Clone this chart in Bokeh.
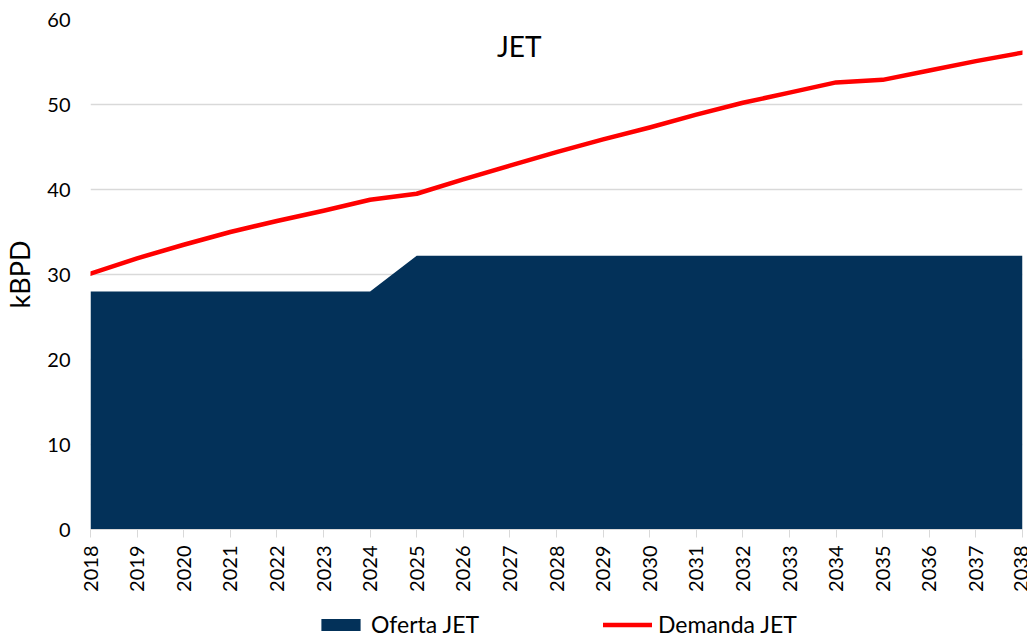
from bokeh.plotting import figure
from bokeh.models import (FixedTicker, Legend, LegendItem, Label, Range1d)
from bokeh.layouts import column
from bokeh.embed import file_html
from bokeh.resources import INLINE
from math import pi

years = list(range(2018, 2039))
oferta = [28.0, 28.0, 28.0, 28.0, 28.0, 28.0, 28.0,
          32.2, 32.2, 32.2, 32.2, 32.2, 32.2, 32.2, 32.2, 32.2, 32.2, 32.2, 32.2, 32.2, 32.2]
demanda = [30.1, 31.9, 33.5, 35.0, 36.3, 37.5, 38.8,
           39.5, 41.2, 42.8, 44.4, 45.9, 47.3, 48.8, 50.2, 51.4, 52.6, 52.9, 54.0, 55.1, 56.1]
y_ticks = [0, 10, 20, 30, 40, 50, 60]
title_text = "JET"
y_label = "kBPD"
serie_oferta = "Oferta JET"
serie_demanda = "Demanda JET"

FONT = "Lato"
NAVY = "#033159"
RED = "#FF0000"
GRID = "#D9D9D9"

p = figure(width=1027, height=600, output_backend="svg", toolbar_location=None,
           x_range=Range1d(years[0], years[-1]), y_range=Range1d(0, 60),
           min_border_left=89, min_border_right=5, min_border_top=19, min_border_bottom=71)
p.outline_line_color = None
p.background_fill_color = "white"
p.border_fill_color = "white"

area = p.varea(x=years, y1=0, y2=oferta, fill_color=NAVY)
line = p.line(x=years, y=demanda, line_color=RED, line_width=4.5,
              line_join="round", line_cap="round")

# axes
p.xaxis.ticker = FixedTicker(ticks=years)
p.xaxis.major_label_orientation = pi / 2
p.xaxis.axis_line_color = GRID
p.xaxis.major_tick_line_color = GRID
p.xaxis.major_tick_out = 8
p.xaxis.major_tick_in = 0
p.xaxis.minor_tick_line_color = None
p.xaxis.major_label_text_font = FONT
p.xaxis.major_label_text_font_size = "20px"
p.xaxis.major_label_text_color = "black"
p.xaxis.major_label_standoff = 8

p.yaxis.ticker = FixedTicker(ticks=y_ticks)
p.yaxis.axis_line_color = None
p.yaxis.major_tick_line_color = None
p.yaxis.minor_tick_line_color = None
p.yaxis.major_tick_out = 0
p.yaxis.major_tick_in = 0
p.yaxis.major_label_text_font = FONT
p.yaxis.major_label_text_font_size = "20px"
p.yaxis.major_label_text_color = "black"
p.yaxis.major_label_standoff = 20
p.yaxis.axis_label = y_label
p.yaxis.axis_label_text_font = FONT
p.yaxis.axis_label_text_font_size = "27px"
p.yaxis.axis_label_text_font_style = "normal"
p.yaxis.axis_label_text_color = "black"
p.yaxis.axis_label_standoff = 8

p.xgrid.grid_line_color = None
p.ygrid.grid_line_color = GRID
p.ygrid.grid_line_width = 1.5

p.add_layout(Label(x=2027.2, y=56.9, text=title_text, text_align="center",
                   text_baseline="middle", text_font=FONT, text_font_size="28px",
                   text_color="black"))

# legend strip (separate small figure so the legend is never clipped);
# its proxy glyphs hold the real series but lie outside the strip's visible range
q = figure(width=1027, height=38, output_backend="svg", toolbar_location=None,
           x_range=Range1d(0, 1), y_range=Range1d(0, 1),
           x_axis_location=None, y_axis_location=None,
           min_border_left=0, min_border_right=0, min_border_top=0, min_border_bottom=0)
q.outline_line_color = None
q.xgrid.grid_line_color = None
q.ygrid.grid_line_color = None
leg_area = q.varea(x=years, y1=0, y2=oferta, fill_color=NAVY)
leg_line = q.line(x=years, y=demanda, line_color=RED, line_width=4.5, line_cap="round")

legend = Legend(items=[LegendItem(label=serie_oferta, renderers=[leg_area]),
                       LegendItem(label=serie_demanda, renderers=[leg_line])],
                orientation="horizontal", location=(226, 0),
                padding=0, margin=0, spacing=124,
                glyph_width=49, glyph_height=15, label_height=28,
                label_standoff=6,
                label_text_font=FONT, label_text_font_size="23px",
                label_text_color="black",
                border_line_color=None, background_fill_alpha=0)
q.add_layout(legend, "center")

layout = column(p, q, spacing=0)
open("out.html", "w").write(file_html(layout, INLINE))
